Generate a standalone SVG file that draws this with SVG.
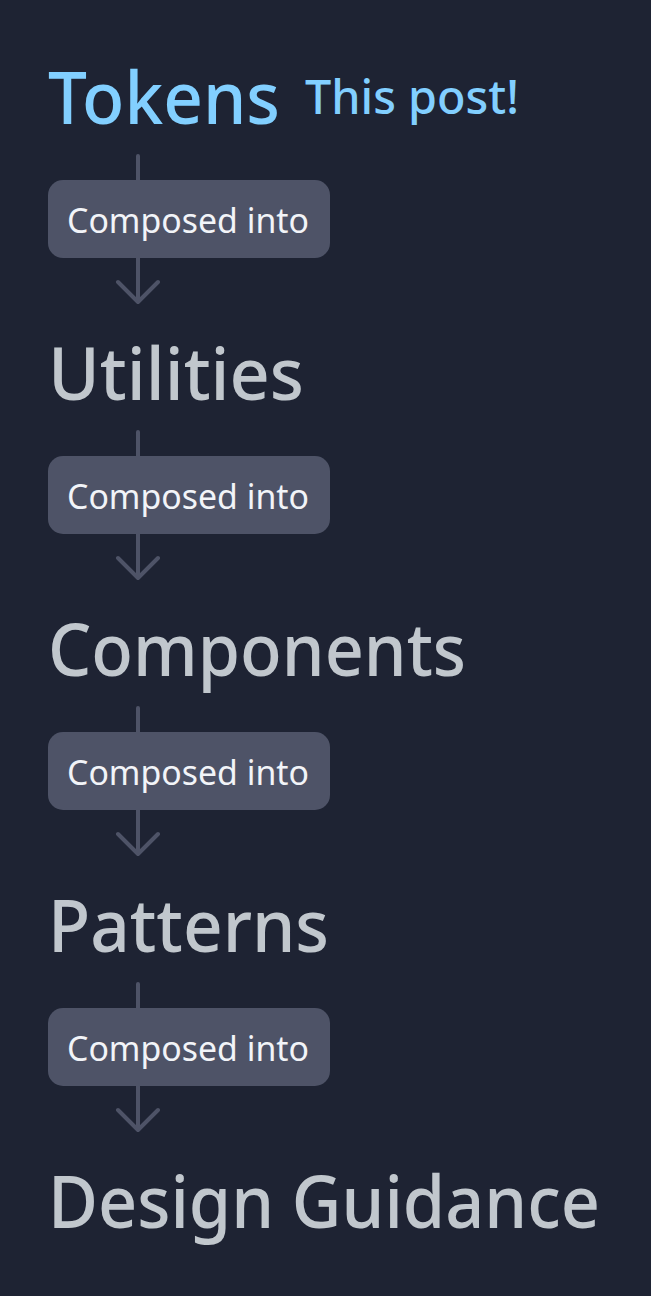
<svg xmlns="http://www.w3.org/2000/svg" width="651" height="1296" viewBox="0 0 651 1296">
<defs>
<style>
.lvl{font-family:"Noto Sans","Open Sans",sans-serif;font-size:72px;font-weight:500;fill:#c1c7cd}
.hl{fill:#82cfff}
.note{font-family:"Noto Sans","Open Sans",sans-serif;font-size:47px;font-weight:500;fill:#82cfff}
.pill{fill:#4e5367}
.pt{font-family:"Noto Sans","Open Sans",sans-serif;font-size:34px;fill:#f2f4f8}
.ln{stroke:#4e5367;stroke-width:4;fill:none;stroke-linecap:round;stroke-linejoin:round}
</style>
</defs>
<rect width="651" height="1296" fill="#1e2333"/>
<g id="connectors">
<path class="ln" d="M138 156V300M118 282L138 302L158 282"/>
<path class="ln" d="M138 432V576M118 558L138 578L158 558"/>
<path class="ln" d="M138 708V852M118 834L138 854L158 834"/>
<path class="ln" d="M138 984V1128M118 1110L138 1130L158 1110"/>
</g>
<g id="pills">
<g id="pill1"><rect class="pill" x="48" y="180" width="282" height="78" rx="15"/><text class="pt" x="67" y="233" textLength="242" lengthAdjust="spacingAndGlyphs">Composed into</text></g>
<g id="pill2"><rect class="pill" x="48" y="456" width="282" height="78" rx="15"/><text class="pt" x="67" y="509" textLength="242" lengthAdjust="spacingAndGlyphs">Composed into</text></g>
<g id="pill3"><rect class="pill" x="48" y="732" width="282" height="78" rx="15"/><text class="pt" x="67" y="785" textLength="242" lengthAdjust="spacingAndGlyphs">Composed into</text></g>
<g id="pill4"><rect class="pill" x="48" y="1008" width="282" height="78" rx="15"/><text class="pt" x="67" y="1061" textLength="242" lengthAdjust="spacingAndGlyphs">Composed into</text></g>
</g>
<g id="tokens"><text class="lvl hl" x="48" y="124" textLength="232" lengthAdjust="spacingAndGlyphs">Tokens</text><text class="note" x="305" y="114" textLength="214" lengthAdjust="spacingAndGlyphs">This post!</text></g>
<g id="utilities"><text class="lvl" x="48" y="400" textLength="256" lengthAdjust="spacingAndGlyphs">Utilities</text></g>
<g id="components"><text class="lvl" x="48" y="676" textLength="418" lengthAdjust="spacingAndGlyphs">Components</text></g>
<g id="patterns"><text class="lvl" x="48" y="952" textLength="281" lengthAdjust="spacingAndGlyphs">Patterns</text></g>
<g id="design-guidance"><text class="lvl" x="48" y="1228" textLength="552" lengthAdjust="spacingAndGlyphs">Design Guidance</text></g>
</svg>
